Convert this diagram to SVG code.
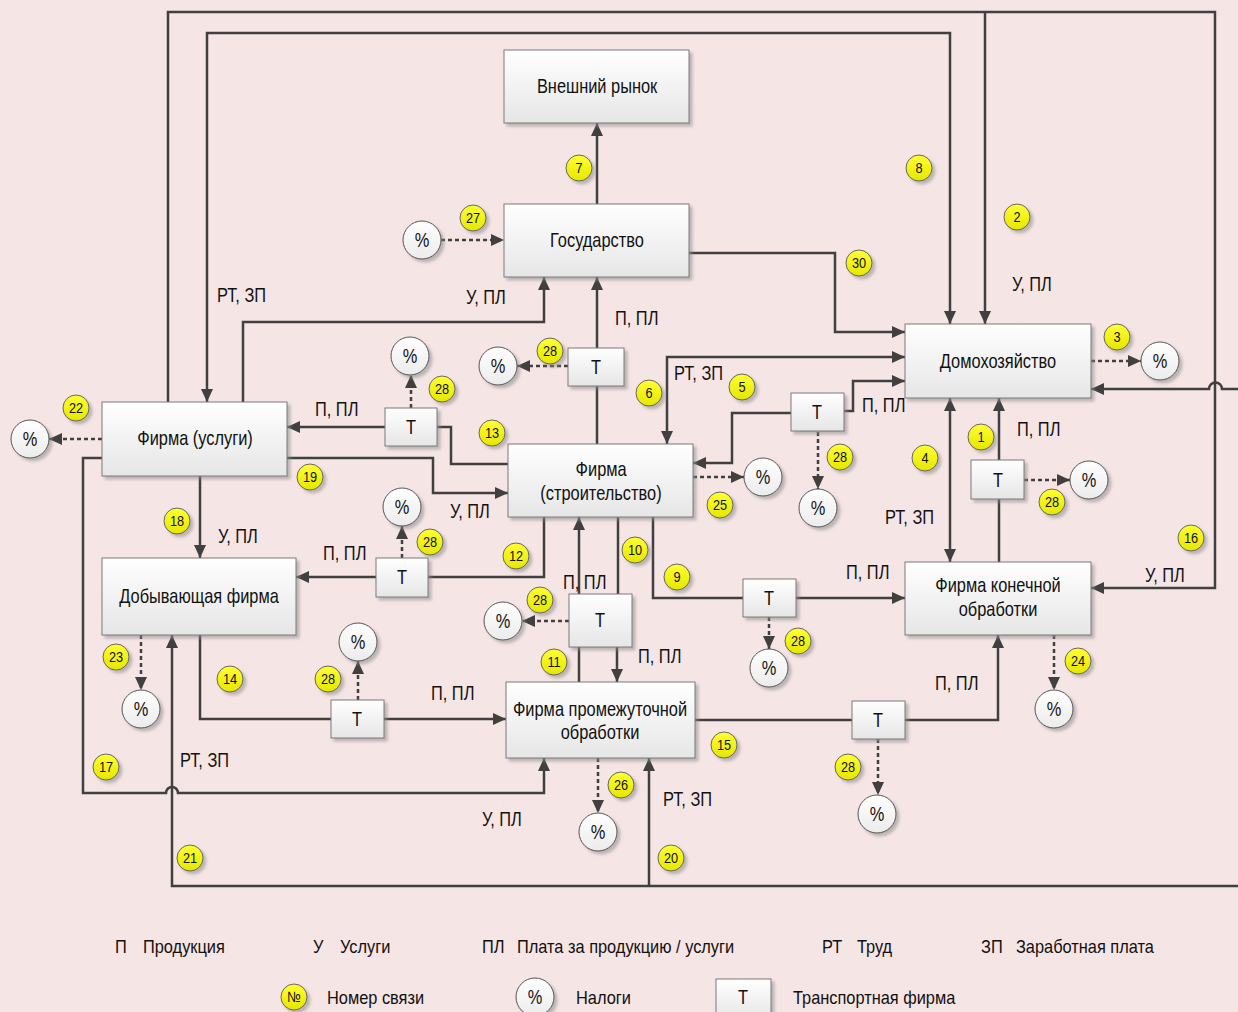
<svg xmlns="http://www.w3.org/2000/svg" width="1238" height="1012" viewBox="0 0 1238 1012">
<defs>
<linearGradient id="gBox" x1="0" y1="0" x2="0" y2="1"><stop offset="0" stop-color="#ffffff"/><stop offset="1" stop-color="#e6e6e6"/></linearGradient>
<linearGradient id="gCirc" x1="0" y1="0" x2="0" y2="1"><stop offset="0" stop-color="#ffffff"/><stop offset="1" stop-color="#ececec"/></linearGradient>
<linearGradient id="gY" x1="0" y1="0" x2="0" y2="1"><stop offset="0" stop-color="#ffff33"/><stop offset="1" stop-color="#e6e600"/></linearGradient>
<filter id="sh" x="-20%" y="-20%" width="150%" height="150%"><feDropShadow dx="3" dy="3" stdDeviation="1.5" flood-color="#8a8a8a" flood-opacity="0.55"/></filter>
<marker id="a" markerUnits="userSpaceOnUse" markerWidth="14" markerHeight="12" refX="13" refY="6" orient="auto-start-reverse"><path d="M0,0 L13,6 L0,12 z" fill="#404040"/></marker>
<style>
.ln{fill:none;stroke:#404040;stroke-width:2.5;marker-end:url(#a)}
.nm{fill:none;stroke:#404040;stroke-width:2.5}
.bi{fill:none;stroke:#404040;stroke-width:2.5;marker-start:url(#a);marker-end:url(#a)}
.ds{fill:none;stroke:#404040;stroke-width:2.5;stroke-dasharray:4 3;marker-end:url(#a)}
.box{fill:url(#gBox);stroke:#7a7a7a;stroke-width:1;filter:url(#sh)}
.pc{fill:url(#gCirc);stroke:#555;stroke-width:1;filter:url(#sh)}
.yc{fill:url(#gY);stroke:#666;stroke-width:1;filter:url(#sh)}
text{font-family:"Liberation Sans Narrow","Arial Narrow","Liberation Sans",Arial,sans-serif;fill:#111;transform-box:fill-box}
.t{font-size:20px;text-anchor:middle;transform-origin:50% 50%;transform:scaleX(0.82)}
.l{font-size:20px;transform-origin:0% 50%;transform:scaleX(0.82)}
.n{font-size:15px;text-anchor:middle;transform-origin:50% 50%;transform:scaleX(0.85)}
.g{font-size:18px;transform-origin:0% 50%;transform:scaleX(0.91)}
</style>
</defs>
<rect x="0" y="0" width="1238" height="1012" fill="#f6e5e5"/>

<g id="connectors">
<path class="ln" d="M168,402 V12 H1215 V588 H1091"/>
<path class="ln" d="M985,12 V324"/>
<path class="bi" d="M207,402 V33 H950 V324"/>
<path class="ln" d="M243,402 V322 H544 V277"/>
<path class="nm" d="M597,444 V386"/>
<path class="ln" d="M597,348 V277"/>
<path class="ln" d="M597,204 V123"/>
<path class="ln" d="M689,253 H835 V332 H905"/>
<path class="bi" d="M905,357 H667 V444"/>
<path class="ln" d="M791,413 H732 V463 H693"/>
<path class="ln" d="M844,411 H853 V381 H905"/>
<path class="bi" d="M950,398 V562"/>
<path class="nm" d="M999,562 V499"/>
<path class="ln" d="M999,460 V398"/>
<path class="ln" d="M1238,389 H1222 A6.5,6.5 0 0 0 1209,389 H1091"/>
<path class="ln" d="M385,427 H287"/>
<path class="nm" d="M437,427 H451 V464 H508"/>
<path class="ln" d="M287,458 H433 V493 H508"/>
<path class="ln" d="M102,458 H83 V793 H166 A6,6 0 0 1 178,793 H544 V758"/>
<path class="ln" d="M200,476 V558"/>
<path class="nm" d="M544,517 V577 H428"/>
<path class="ln" d="M376,577 H296"/>
<path class="nm" d="M579,682 V647"/>
<path class="ln" d="M579,594 V517"/>
<path class="nm" d="M618,517 V594"/>
<path class="ln" d="M617,647 V682"/>
<path class="nm" d="M653,517 V598 H743"/>
<path class="ln" d="M796,598 H905"/>
<path class="nm" d="M200,635 V719 H331"/>
<path class="ln" d="M384,719 H506"/>
<path class="ln" d="M1238,886 H172 V635"/>
<path class="ln" d="M649,886 V758"/>
<path class="nm" d="M695,720 H852"/>
<path class="ln" d="M905,720 H998 V635"/>
<path class="ds" d="M441,240 H504"/>
<path class="ds" d="M1091,361 H1141"/>
<path class="ds" d="M102,439 H49"/>
<path class="ds" d="M411,408 V375"/>
<path class="ds" d="M568,366 H517"/>
<path class="ds" d="M693,477 H744"/>
<path class="ds" d="M818,432 V489"/>
<path class="ds" d="M1024,480 H1070"/>
<path class="ds" d="M402,558 V526"/>
<path class="ds" d="M569,621 H522"/>
<path class="ds" d="M769,617 V649"/>
<path class="ds" d="M358,700 V661"/>
<path class="ds" d="M141,635 V690"/>
<path class="ds" d="M1054,635 V690"/>
<path class="ds" d="M878,739 V795"/>
<path class="ds" d="M598,758 V813"/>
</g>

<g id="labels">
<text class="l" x="217" y="302">РТ, ЗП</text>
<text class="l" x="466" y="304">У, ПЛ</text>
<text class="l" x="615" y="325">П, ПЛ</text>
<text class="l" x="1012" y="291">У, ПЛ</text>
<text class="l" x="315" y="416">П, ПЛ</text>
<text class="l" x="218" y="543">У, ПЛ</text>
<text class="l" x="323" y="560">П, ПЛ</text>
<text class="l" x="674" y="380">РТ, ЗП</text>
<text class="l" x="862" y="412">П, ПЛ</text>
<text class="l" x="450" y="518">У, ПЛ</text>
<text class="l" x="563" y="589">П, ПЛ</text>
<text class="l" x="638" y="663">П, ПЛ</text>
<text class="l" x="846" y="579">П, ПЛ</text>
<text class="l" x="1017" y="436">П, ПЛ</text>
<text class="l" x="885" y="524">РТ, ЗП</text>
<text class="l" x="1145" y="582">У, ПЛ</text>
<text class="l" x="431" y="700">П, ПЛ</text>
<text class="l" x="482" y="826">У, ПЛ</text>
<text class="l" x="663" y="806">РТ, ЗП</text>
<text class="l" x="180" y="767">РТ, ЗП</text>
<text class="l" x="935" y="690">П, ПЛ</text>
</g>

<g id="n-vneshniy"><rect class="box" x="504" y="50" width="185" height="73"/><text class="t" x="597" y="93">Внешний рынок</text></g>
<g id="n-gosudarstvo"><rect class="box" x="504" y="204" width="185" height="73"/><text class="t" x="597" y="247">Государство</text></g>
<g id="n-domokhozyaystvo"><rect class="box" x="905" y="324" width="186" height="74"/><text class="t" x="998" y="368">Домохозяйство</text></g>
<g id="n-konechnaya"><rect class="box" x="905" y="562" width="186" height="73"/><text class="t" x="998" y="592">Фирма конечной</text><text class="t" x="998" y="616">обработки</text></g>
<g id="n-uslugi"><rect class="box" x="102" y="402" width="185" height="74"/><text class="t" x="195" y="445">Фирма (услуги)</text></g>
<g id="n-dobyvayushchaya"><rect class="box" x="102" y="558" width="194" height="77"/><text class="t" x="199" y="603">Добывающая фирма</text></g>
<g id="n-stroitelstvo"><rect class="box" x="508" y="444" width="185" height="73"/><text class="t" x="601" y="476">Фирма</text><text class="t" x="601" y="500">(строительство)</text></g>
<g id="n-promezhutochnaya"><rect class="box" x="506" y="682" width="189" height="76"/><text class="t" x="600" y="716">Фирма промежуточной</text><text class="t" x="600" y="739">обработки</text></g>

<g id="t1"><rect class="box" x="385" y="408" width="52" height="38"/><text class="t" x="411" y="434">Т</text></g>
<g id="t2"><rect class="box" x="568" y="348" width="56" height="38"/><text class="t" x="596" y="374">Т</text></g>
<g id="t3"><rect class="box" x="791" y="393" width="53" height="38"/><text class="t" x="817" y="419">Т</text></g>
<g id="t4"><rect class="box" x="971" y="460" width="53" height="39"/><text class="t" x="998" y="487">Т</text></g>
<g id="t5"><rect class="box" x="376" y="558" width="52" height="39"/><text class="t" x="402" y="584">Т</text></g>
<g id="t6"><rect class="box" x="569" y="594" width="63" height="53"/><text class="t" x="600" y="627">Т</text></g>
<g id="t7"><rect class="box" x="743" y="579" width="53" height="38"/><text class="t" x="769" y="605">Т</text></g>
<g id="t8"><rect class="box" x="331" y="700" width="53" height="38"/><text class="t" x="357" y="726">Т</text></g>
<g id="t9"><rect class="box" x="852" y="701" width="53" height="38"/><text class="t" x="878" y="727">Т</text></g>

<g id="taxes">
<g id="p1"><circle class="pc" cx="422" cy="240" r="19"/><text class="t" x="422" y="247">%</text></g>
<g id="p2"><circle class="pc" cx="1160" cy="361" r="19"/><text class="t" x="1160" y="368">%</text></g>
<g id="p3"><circle class="pc" cx="410" cy="356" r="19"/><text class="t" x="410" y="363">%</text></g>
<g id="p4"><circle class="pc" cx="498" cy="366" r="19"/><text class="t" x="498" y="373">%</text></g>
<g id="p5"><circle class="pc" cx="30" cy="439" r="19"/><text class="t" x="30" y="446">%</text></g>
<g id="p6"><circle class="pc" cx="763" cy="477" r="19"/><text class="t" x="763" y="484">%</text></g>
<g id="p7"><circle class="pc" cx="818" cy="508" r="19"/><text class="t" x="818" y="515">%</text></g>
<g id="p8"><circle class="pc" cx="1089" cy="480" r="19"/><text class="t" x="1089" y="487">%</text></g>
<g id="p9"><circle class="pc" cx="402" cy="507" r="19"/><text class="t" x="402" y="514">%</text></g>
<g id="p10"><circle class="pc" cx="503" cy="621" r="19"/><text class="t" x="503" y="628">%</text></g>
<g id="p11"><circle class="pc" cx="769" cy="668" r="19"/><text class="t" x="769" y="675">%</text></g>
<g id="p12"><circle class="pc" cx="358" cy="642" r="19"/><text class="t" x="358" y="649">%</text></g>
<g id="p13"><circle class="pc" cx="141" cy="709" r="19"/><text class="t" x="141" y="716">%</text></g>
<g id="p14"><circle class="pc" cx="1054" cy="709" r="19"/><text class="t" x="1054" y="716">%</text></g>
<g id="p15"><circle class="pc" cx="877" cy="814" r="19"/><text class="t" x="877" y="821">%</text></g>
<g id="p16"><circle class="pc" cx="598" cy="832" r="19"/><text class="t" x="598" y="839">%</text></g>
</g>

<g id="numbers">
<g><circle class="yc" cx="579" cy="168" r="13"/><text class="n" x="579" y="173">7</text></g>
<g><circle class="yc" cx="473" cy="218" r="13"/><text class="n" x="473" y="223">27</text></g>
<g><circle class="yc" cx="919" cy="168" r="13"/><text class="n" x="919" y="173">8</text></g>
<g><circle class="yc" cx="1017" cy="217" r="13"/><text class="n" x="1017" y="222">2</text></g>
<g><circle class="yc" cx="859" cy="263" r="13"/><text class="n" x="859" y="268">30</text></g>
<g><circle class="yc" cx="1117" cy="337" r="13"/><text class="n" x="1117" y="342">3</text></g>
<g><circle class="yc" cx="76" cy="408" r="13"/><text class="n" x="76" y="413">22</text></g>
<g><circle class="yc" cx="310" cy="477" r="13"/><text class="n" x="310" y="482">19</text></g>
<g><circle class="yc" cx="177" cy="521" r="13"/><text class="n" x="177" y="526">18</text></g>
<g><circle class="yc" cx="116" cy="657" r="13"/><text class="n" x="116" y="662">23</text></g>
<g><circle class="yc" cx="442" cy="389" r="13"/><text class="n" x="442" y="394">28</text></g>
<g><circle class="yc" cx="550" cy="351" r="13"/><text class="n" x="550" y="356">28</text></g>
<g><circle class="yc" cx="492" cy="433" r="13"/><text class="n" x="492" y="438">13</text></g>
<g><circle class="yc" cx="649" cy="393" r="13"/><text class="n" x="649" y="398">6</text></g>
<g><circle class="yc" cx="742" cy="387" r="13"/><text class="n" x="742" y="392">5</text></g>
<g><circle class="yc" cx="720" cy="505" r="13"/><text class="n" x="720" y="510">25</text></g>
<g><circle class="yc" cx="516" cy="556" r="13"/><text class="n" x="516" y="561">12</text></g>
<g><circle class="yc" cx="635" cy="550" r="13"/><text class="n" x="635" y="555">10</text></g>
<g><circle class="yc" cx="677" cy="577" r="13"/><text class="n" x="677" y="582">9</text></g>
<g><circle class="yc" cx="430" cy="542" r="13"/><text class="n" x="430" y="547">28</text></g>
<g><circle class="yc" cx="540" cy="600" r="13"/><text class="n" x="540" y="605">28</text></g>
<g><circle class="yc" cx="798" cy="641" r="13"/><text class="n" x="798" y="646">28</text></g>
<g><circle class="yc" cx="554" cy="662" r="13"/><text class="n" x="554" y="667">11</text></g>
<g><circle class="yc" cx="840" cy="457" r="13"/><text class="n" x="840" y="462">28</text></g>
<g><circle class="yc" cx="925" cy="458" r="13"/><text class="n" x="925" y="463">4</text></g>
<g><circle class="yc" cx="981" cy="437" r="13"/><text class="n" x="981" y="442">1</text></g>
<g><circle class="yc" cx="1052" cy="502" r="13"/><text class="n" x="1052" y="507">28</text></g>
<g><circle class="yc" cx="1191" cy="538" r="13"/><text class="n" x="1191" y="543">16</text></g>
<g><circle class="yc" cx="1078" cy="661" r="13"/><text class="n" x="1078" y="666">24</text></g>
<g><circle class="yc" cx="848" cy="767" r="13"/><text class="n" x="848" y="772">28</text></g>
<g><circle class="yc" cx="230" cy="679" r="13"/><text class="n" x="230" y="684">14</text></g>
<g><circle class="yc" cx="328" cy="679" r="13"/><text class="n" x="328" y="684">28</text></g>
<g><circle class="yc" cx="106" cy="767" r="13"/><text class="n" x="106" y="772">17</text></g>
<g><circle class="yc" cx="190" cy="858" r="13"/><text class="n" x="190" y="863">21</text></g>
<g><circle class="yc" cx="724" cy="745" r="13"/><text class="n" x="724" y="750">15</text></g>
<g><circle class="yc" cx="621" cy="785" r="13"/><text class="n" x="621" y="790">26</text></g>
<g><circle class="yc" cx="671" cy="858" r="13"/><text class="n" x="671" y="863">20</text></g>
</g>

<g id="legend">
<text class="g" x="115" y="953">П</text><text class="g" x="143" y="953">Продукция</text>
<text class="g" x="313" y="953">У</text><text class="g" x="340" y="953">Услуги</text>
<text class="g" x="482" y="953">ПЛ</text><text class="g" x="517" y="953">Плата за продукцию / услуги</text>
<text class="g" x="822" y="953">РТ</text><text class="g" x="857" y="953">Труд</text>
<text class="g" x="981" y="953">ЗП</text><text class="g" x="1016" y="953">Заработная плата</text>
<circle class="yc" cx="294" cy="997" r="13"/><text class="n" x="294" y="1002">№</text>
<text class="g" x="327" y="1004">Номер связи</text>
<circle class="pc" cx="535" cy="997" r="19"/><text class="t" x="535" y="1004">%</text>
<text class="g" x="576" y="1004">Налоги</text>
<rect class="box" x="716" y="979" width="55" height="40"/><text class="t" x="743" y="1004">Т</text>
<text class="g" x="793" y="1004">Транспортная фирма</text>
</g>
</svg>
